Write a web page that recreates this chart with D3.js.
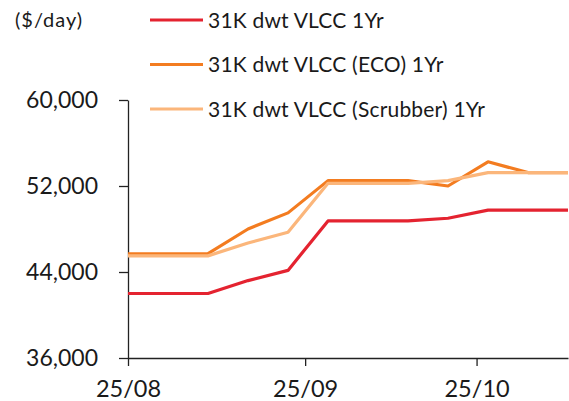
<!DOCTYPE html>
<html>
<head>
<meta charset="utf-8">
<script src="https://cdn.jsdelivr.net/npm/d3@7"></script>
<style>
  body { margin: 0; background: #fff; }
  text { font-family: Lato, sans-serif; fill: #1a1a1a; }
</style>
</head>
<body>
<script>
// weekly dates (dd/mm/yyyy)
var dates = ["2025-08-25", "2025-09-01", "2025-09-08", "2025-09-15", "2025-09-22", "2025-09-29",
             "2025-10-06", "2025-10-13", "2025-10-20", "2025-10-27", "2025-11-03", "2025-11-10"];

var seriesNames = ["31K dwt VLCC 1Yr", "31K dwt VLCC (ECO) 1Yr", "31K dwt VLCC (Scrubber) 1Yr"];

var vlcc1yr      = [42000, 42000, 42000, 43200, 44150, 48750, 48750, 48750, 49000, 49750, 49750, 49750];
var vlccEco1yr   = [45700, 45700, 45700, 48000, 49500, 52500, 52500, 52500, 52000, 54250, 53250, 53250];
var vlccScrub1yr = [45500, 45500, 45500, 46700, 47700, 52250, 52250, 52250, 52500, 53250, 53250, 53250];

var yTicks = [36000, 44000, 52000, 60000];
var xTicks = ["2025-08-25", "2025-09-25", "2025-10-25"];

var colours = ["#e42330", "#f37c20", "#fbb67b"];

var parse = d3.timeParse("%Y-%m-%d");
var width = 569, height = 401;

var svg = d3.select("body").append("svg")
    .attr("width", width)
    .attr("height", height);

var x = d3.scaleTime()
    .domain([parse(dates[0]), parse(dates[dates.length - 1])])
    .range([128, 568]);

var y = d3.scaleLinear()
    .domain([36000, 60000])
    .range([358, 100]);

var series = [vlcc1yr, vlccEco1yr, vlccScrub1yr].map(function(vals, i) {
  return {
    name: seriesNames[i],
    colour: colours[i],
    values: vals.map(function(v, j) { return { date: parse(dates[j]), value: v }; })
  };
});

// y axis
var yAxis = svg.append("g")
    .attr("transform", "translate(128,0)")
    .call(d3.axisLeft(y).tickValues(yTicks).tickSize(9).tickSizeOuter(0)
      .tickFormat(d3.format(",")));
yAxis.select(".domain").attr("stroke", "#222").attr("stroke-width", 1.3);
yAxis.selectAll(".tick line").attr("stroke", "#222").attr("stroke-width", 1.3);
yAxis.selectAll(".tick text")
    .attr("x", -30)
    .style("font-family", "Lato, sans-serif")
    .style("font-size", "23px")
    .attr("fill", "#1a1a1a");

// x axis
var xAxis = svg.append("g")
    .attr("transform", "translate(0,358)")
    .call(d3.axisBottom(x).tickValues(xTicks.map(parse)).tickSize(8).tickSizeOuter(0)
      .tickFormat(d3.timeFormat("%d/%m")));
xAxis.select(".domain").attr("stroke", "#222").attr("stroke-width", 1.3);
xAxis.selectAll(".tick line").attr("stroke", "#222").attr("stroke-width", 1.3);
xAxis.selectAll(".tick text")
    .attr("y", 22)
    .style("font-family", "Lato, sans-serif")
    .style("font-size", "23.5px")
    .attr("fill", "#1a1a1a");

// lines
var line = d3.line()
    .x(function(d) { return x(d.date); })
    .y(function(d) { return y(d.value); });

svg.selectAll(".series")
  .data(series)
  .enter().append("path")
    .attr("class", "series")
    .attr("d", function(d) { return line(d.values); })
    .attr("fill", "none")
    .attr("stroke", function(d) { return d.colour; })
    .attr("stroke-width", 3.2)
    .attr("stroke-linejoin", "round");

// unit label
svg.append("text")
    .attr("x", 15)
    .attr("y", 27)
    .style("font-size", "20px")
    .style("letter-spacing", "1px")
    .text("($/day)");

// legend
var legend = svg.selectAll(".legend")
  .data(series)
  .enter().append("g")
    .attr("class", "legend")
    .attr("transform", function(d, i) { return "translate(150," + (20 + i * 44.5) + ")"; });

legend.append("line")
    .attr("x1", 0).attr("x2", 53)
    .attr("stroke", function(d) { return d.colour; })
    .attr("stroke-width", 3.2);

legend.append("text")
    .attr("x", 58)
    .attr("dy", "0.36em")
    .style("font-size", "21px")
    .style("letter-spacing", "0.2px")
    .text(function(d) { return d.name; });
</script>
</body>
</html>
